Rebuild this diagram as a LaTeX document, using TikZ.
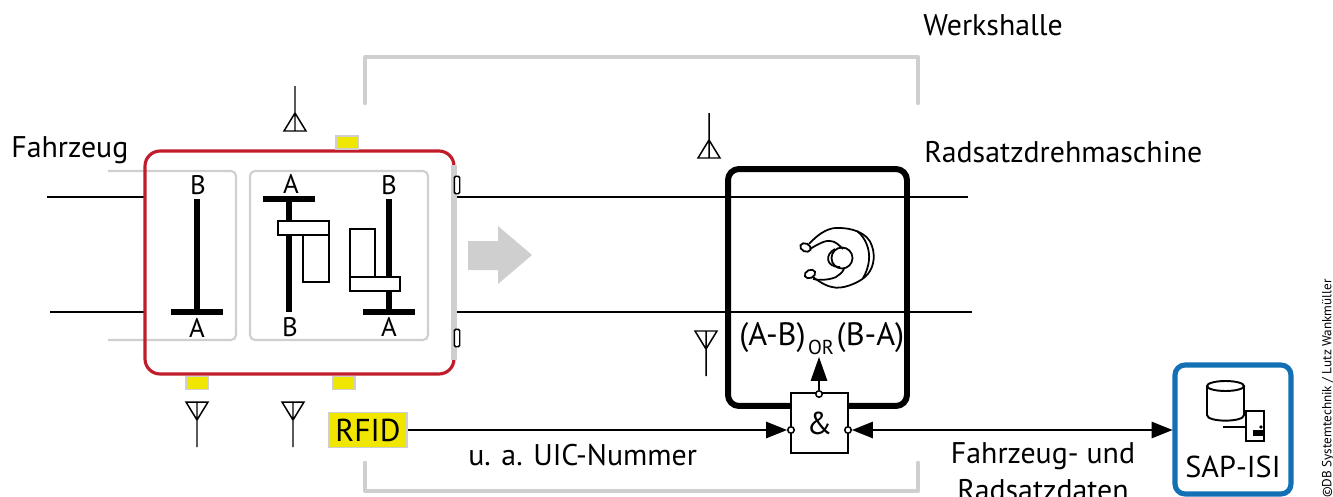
\documentclass[tikz,border=0pt]{standalone}
\usepackage{fontspec}
\setmainfont{PT Sans}
\usetikzlibrary{arrows.meta}
\definecolor{dbred}{HTML}{C01C2A}
\definecolor{dbblue}{HTML}{1470B4}
\definecolor{dbyellow}{HTML}{F0E600}
\definecolor{dbgrey}{HTML}{CFCFCF}
\tikzset{
  thinline/.style={line width=0.85pt},
  greyline/.style={draw=dbgrey,line width=2.6pt,line cap=round,line join=round},
  frameline/.style={draw=dbgrey,line width=1.2pt,rounded corners=0.1cm},
  axle/.style={line width=2.9pt},
  whitebox/.style={draw,fill=white,line width=0.85pt},
  tag/.style={draw=dbgrey,fill=dbyellow,line width=0.6pt,inner sep=0pt,minimum width=0.44cm,minimum height=0.26cm},
  bubble/.style={circle,draw,fill=white,line width=0.85pt,inner sep=0pt,minimum size=0.13cm},
  bigarrow/.style={thinline,-{Triangle[length=0.42cm,width=0.33cm]}},
  word/.style={inner sep=0pt,font=\fontsize{17}{20.4}\selectfont},
  letter/.style={inner sep=0pt,font=\fontsize{15.3}{21}\selectfont},
  person/.style={line width=1pt},
  antenna/.pic={\draw[thinline] (-11,0) -- (11,0) -- (0,18) -- cycle (0,0) -- (0,45);}
}
\begin{document}
\begin{tikzpicture}[x=0.02cm,y=-0.02cm]
\useasboundingbox (0,0) rectangle (1333,497);
\clip (0,0) rectangle (1333,497);
% hall
\draw[greyline] (365,103) -- (365,57) -- (918,57) -- (918,103);
\draw[greyline] (365,463) -- (365,491) -- (918,491) -- (918,463);
% rails
\coordinate (raila) at (47,197);
\coordinate (railb) at (145,197);
\coordinate (railc) at (457,197);
\coordinate (raild) at (968,197);
\coordinate (raile) at (50,312);
\coordinate (railf) at (145,312);
\coordinate (railg) at (457,312);
\coordinate (railh) at (972,312);
\draw[thinline] (raila) -- (railb) (railc) -- (raild);
\draw[thinline] (raile) -- (railf) (railg) -- (railh);
% vehicle
\draw[frameline] (108,171) -- (236,171) -- (236,340) -- (108,340);
\draw[frameline] (250,171) rectangle (428,340);
\node[draw=dbred,line width=1.8pt,rounded corners=0.3cm,inner sep=0pt,outer sep=0pt,minimum width=6.18cm,minimum height=4.46cm] (fahrzeugbox) at (299.5,262.5) {};
\draw[draw=dbgrey,line width=2.9pt] (454,165) -- (454,360);
\node[whitebox,rounded corners=0.03cm,inner sep=0pt,minimum width=0.11cm,minimum height=0.35cm] (doora) at (457,185) {};
\node[whitebox,rounded corners=0.03cm,inner sep=0pt,minimum width=0.11cm,minimum height=0.35cm] (doorb) at (457,338) {};
\node[tag] (tagtop) at (347,142.5) {};
\node[tag] (tagleft) at (197,383) {};
\node[tag] (tagright) at (344,383) {};
% axles
\draw[axle] (197,199) -- (197,312);
\draw[axle] (171,312) -- (223,312);
\draw[axle] (289,199) -- (289,312);
\draw[axle] (263,199) -- (315,199);
\draw[axle] (389,199) -- (389,312);
\draw[axle] (363,312) -- (415,312);
\draw[whitebox] (303,235) rectangle (329,282);
\draw[whitebox] (278,221) rectangle (329,235);
\draw[whitebox] (350,229) rectangle (375,277);
\draw[whitebox] (350,277) rectangle (400,291);
\node[letter] (ba) at (198,185) {B};
\node[letter] (aa) at (197,328) {A};
\node[letter] (ab) at (291,184) {A};
\node[letter] (bb) at (389,185) {B};
\node[letter] (bc) at (290,327) {B};
\node[letter] (ac) at (389,327) {A};
% moving direction
\fill[dbgrey] (468,241) -- (498,241) -- (498,226) -- (532,255) -- (498,284) -- (498,270) -- (468,270) -- cycle;
% antennas
\pic at (295,131) [yscale=-1] {antenna};
\pic at (709,158) [yscale=-1] {antenna};
\pic at (706,331) {antenna};
\pic at (197,402) {antenna};
\pic at (293,402) {antenna};
% lathe
\node[draw,line width=3.4pt,rounded corners=0.22cm,inner sep=0pt,outer sep=0pt,minimum width=3.58cm,minimum height=4.74cm] (lathe) at (817.5,287.5) {};
% operator
\draw[person] (809,244) .. controls (820,232) and (830,227) .. (840,228) .. controls (850,228) and (868,232) .. (872,246) .. controls (876,258) and (873,270) .. (865,277) .. controls (858,283) and (842,290) .. (832,287) .. controls (826,286) and (818,281) .. (813,277);
\draw[person] (857,231) .. controls (866,238) and (870,250) .. (869,260) .. controls (868,268) and (866,273) .. (863,278);
\draw[person] (810,249) .. controls (818,244) and (826,240) .. (830,241) .. controls (835,241) and (839,245) .. (843,249);
\draw[person] (813,279) .. controls (822,281) and (832,279) .. (836,277) .. controls (839,275) and (842,273) .. (844,269);
\draw[person,rotate around={-25:(805.5,247.5)}] (805.5,247.5) ellipse (5.5 and 4);
\draw[person,rotate around={25:(810,274)}] (810,274) ellipse (5.5 and 4);
\draw[person] (842,258) circle (10.5);
\draw[person] (835,249) .. controls (825,254) and (825,267) .. (840,267);
% logic
\node[word,font=\fontsize{18.4}{22}\selectfont] (ab-label) at (772.5,338) {(A-B)};
\node[inner sep=0pt,font=\fontsize{11.5}{14}\selectfont] (or-label) at (821,347) {OR};
\node[word,font=\fontsize{18.4}{22}\selectfont] (ba-label) at (870.5,338) {(B-A)};
\node[whitebox,inner sep=0pt,minimum width=1.14cm,minimum height=1.2cm,font=\fontsize{18}{22}\selectfont] (gate) at (819.5,423) {\&};
\node[bubble] (gatel) at (791,430) {};
\node[bubble] (gater) at (848,430) {};
\node[bubble] (gatet) at (819,394) {};
\node[fill=dbyellow,draw=dbgrey,line width=0.6pt,inner sep=0pt,minimum width=1.56cm,minimum height=0.7cm,font=\fontsize{18}{22}\selectfont] (rfid) at (368,430) {RFID};
\coordinate (orpoint) at (819,357);
\draw[thinline,-{Triangle[length=0.48cm,width=0.33cm]}] (gatet) -- (orpoint);
\draw[bigarrow] (rfid) -- (gatel);
% database
\node[draw=dbblue,line width=2.9pt,rounded corners=0.2cm,inner sep=0pt,outer sep=1.4pt,minimum width=2.32cm,minimum height=2.58cm] (sap) at (1233,429.5) {};
\draw[bigarrow,{Triangle[length=0.42cm,width=0.33cm]}-{Triangle[length=0.42cm,width=0.33cm]}] (gater) -- (sap.west |- gater);
\draw[line width=1.1pt] (1207,386) -- (1207,415) .. controls (1207,422.5) and (1244,422.5) .. (1244,415) -- (1244,386);
\draw[line width=1.1pt] (1225.5,386) ellipse (18.5 and 5);
\draw[thinline] (1223,427) -- (1246,427);
\draw[line width=1.1pt] (1246,411) rectangle (1264,441);
\fill (1253,430) rectangle (1264,436);
\fill (1261,427) circle (1.8);
\node[inner sep=0pt,font=\fontsize{17.2}{21}\selectfont] (saplabel) at (1233,467) {SAP-ISI};
% labels
\node[word,anchor=west] (halle) at (923,25) {Werkshalle};
\node[word,anchor=west] (maschine) at (924,152) {Radsatzdrehmaschine};
\node[word,anchor=west] (fahrzeug) at (11,150) {Fahrzeug};
\node[word,anchor=west] (uic) at (468,455) {u. a. UIC-Nummer};
\node[inner sep=0pt,align=center,font=\fontsize{17}{21}\selectfont] (daten) at (1043,472) {Fahrzeug- und\\Radsatzdaten};
\node[rotate=90,anchor=west,inner sep=0pt,font=\fontsize{7.5}{9}\selectfont] (copyright) at (1328,498) {©DB Systemtechnik / Lutz Wankmüller};
\end{tikzpicture}
\end{document}
